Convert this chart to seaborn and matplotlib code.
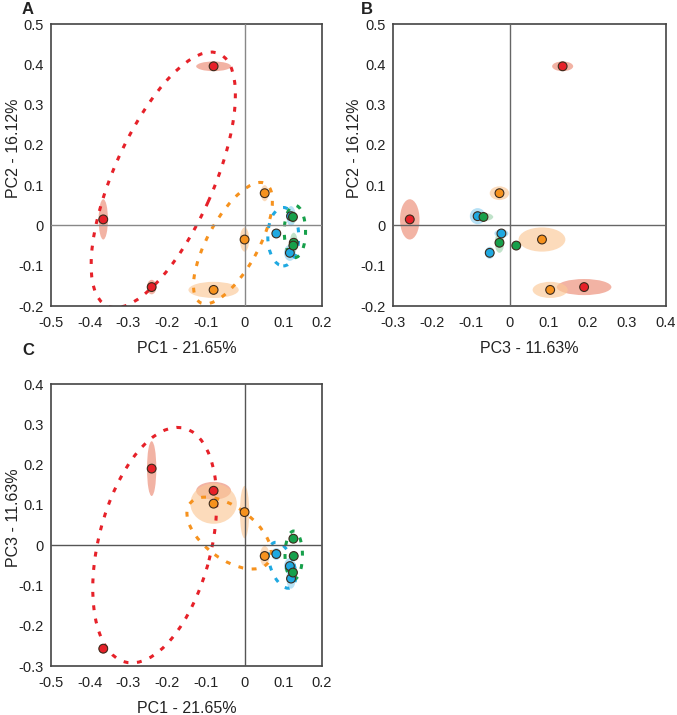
import matplotlib
matplotlib.use('Agg')
import matplotlib.pyplot as plt
from matplotlib.patches import Ellipse
import seaborn as sns
import pandas as pd

# 데이터 (12 samples, 4 groups)
groups = ['red'] * 3 + ['orange'] * 3 + ['blue'] * 3 + ['green'] * 3
pc1 = [-0.08, -0.365, -0.24, 0.052, 0.0, -0.08, 0.12, 0.082, 0.117, 0.125, 0.127, 0.126]
pc2 = [0.395, 0.015, -0.153, 0.080, -0.035, -0.160, 0.023, -0.020, -0.068, 0.021, -0.043, -0.050]
pc3 = [0.135, -0.257, 0.190, -0.027, 0.082, 0.103, -0.083, -0.022, -0.052, -0.068, -0.027, 0.016]

# error ellipse half sizes per panel (x, y)
a_w = [0.045, 0.012, 0.012, 0.010, 0.012, 0.065, 0.012, 0.010, 0.015, 0.010, 0.010, 0.010]
a_h = [0.012, 0.050, 0.018, 0.020, 0.030, 0.020, 0.025, 0.010, 0.020, 0.015, 0.025, 0.010]
b_w = [0.027, 0.025, 0.070, 0.025, 0.060, 0.045, 0.020, 0.018, 0.012, 0.025, 0.012, 0.010]
b_h = [0.012, 0.050, 0.020, 0.017, 0.030, 0.020, 0.020, 0.010, 0.015, 0.010, 0.025, 0.010]
c_w = [0.045, 0.012, 0.012, 0.012, 0.012, 0.060, 0.012, 0.012, 0.015, 0.010, 0.010, 0.010]
c_h = [0.022, 0.012, 0.068, 0.025, 0.065, 0.050, 0.025, 0.015, 0.020, 0.020, 0.012, 0.010]

# group (dashed) ellipses: centre x, centre y, width, height, angle
grp_names = ['red', 'orange', 'blue', 'green']
a_cx = [-0.210, -0.030, 0.100, 0.130]
a_cy = [0.113, -0.044, -0.028, -0.015]
a_ew = [0.69, 0.34, 0.08, 0.055]
a_eh = [0.256, 0.13, 0.145, 0.13]
a_ang = [65, 60, 0, 0]
c_cx = [-0.232, -0.040, 0.097, 0.127]
c_cy = [0.000, 0.030, -0.050, -0.025]
c_ew = [0.60, 0.25, 0.12, 0.045]
c_eh = [0.29, 0.13, 0.06, 0.12]
c_ang = [75, -35, 111, 0]

point_colors = {'red': '#e62129', 'orange': '#f6921e', 'blue': '#1fa9e1', 'green': '#17a04b'}
fill_colors = {'red': '#ec8a74', 'orange': '#fbc897', 'blue': '#8fd1f1', 'green': '#9fd4ae'}

df = pd.DataFrame({'group': groups, 'PC1': pc1, 'PC2': pc2, 'PC3': pc3})

sns.set_style('white')
plt.rcParams['font.family'] = ['Liberation Sans', 'DejaVu Sans']

fig = plt.figure(figsize=(6.77, 7.15), dpi=100)
W, H = 677, 715


def make_ax(left, top, right, bottom):
    return fig.add_axes([left / W, 1 - bottom / H, (right - left) / W, (bottom - top) / H])


def draw_panel(ax, xcol, ycol, hw, hh, gell, xlim, ylim, xticks, yticks, xlabel, ylabel, zcolor, ylab_y):
    # error ellipses
    for i, row in df.iterrows():
        ax.add_patch(Ellipse((row[xcol], row[ycol]), 2 * hw[i], 2 * hh[i],
                             facecolor=fill_colors[row['group']], edgecolor='none', alpha=0.65, zorder=1))
    # group ellipses
    if gell is not None:
        cx, cy, ew, eh, ang = gell
        for j, g in enumerate(grp_names):
            ax.add_patch(Ellipse((cx[j], cy[j]), ew[j], eh[j], angle=ang[j], fill=False,
                                 edgecolor=point_colors[g], lw=2.2, linestyle=(0, (1.6, 2.8)), zorder=2))
    ax.axhline(0, color=zcolor, lw=1.0, zorder=3)
    ax.axvline(0, color=zcolor, lw=1.0, zorder=3)
    sns.scatterplot(data=df, x=xcol, y=ycol, hue='group', palette=point_colors, s=40,
                    edgecolor='#3b2a1c', linewidth=0.8, legend=False, ax=ax, zorder=4)
    ax.set_xlim(xlim)
    ax.set_ylim(ylim)
    ax.set_xticks(xticks)
    ax.set_yticks(yticks)
    ax.set_xticklabels(['0' if t == 0 else f'{t:g}' for t in xticks], fontsize=10.5)
    ax.set_yticklabels(['0' if t == 0 else f'{t:g}' for t in yticks], fontsize=10.5)
    ax.tick_params(axis='x', direction='in', length=3, width=1, pad=7, colors='#333333', labelcolor='#222222')
    ax.tick_params(axis='y', direction='in', length=0, pad=5, labelcolor='#222222')
    ax.set_xlabel(xlabel, fontsize=11.5, labelpad=8, color='#222222')
    ax.set_ylabel(ylabel, fontsize=11.5, color='#222222', va='center')
    ax.yaxis.set_label_coords(-0.14, ylab_y)
    for sp in ax.spines.values():
        sp.set_color('#444444')
        sp.set_linewidth(1.2)


ticks_x1 = [-0.5, -0.4, -0.3, -0.2, -0.1, 0, 0.1, 0.2]
ticks_x3 = [-0.3, -0.2, -0.1, 0, 0.1, 0.2, 0.3, 0.4]
ticks_y2 = [-0.2, -0.1, 0, 0.1, 0.2, 0.3, 0.4, 0.5]
ticks_y3 = [-0.3, -0.2, -0.1, 0, 0.1, 0.2, 0.3, 0.4]

axA = make_ax(51, 24, 322, 306)
draw_panel(axA, 'PC1', 'PC2', a_w, a_h, (a_cx, a_cy, a_ew, a_eh, a_ang),
           (-0.5, 0.2), (-0.2, 0.5), ticks_x1, ticks_y2, 'PC1 - 21.65%', 'PC2 - 16.12%', '#888888', 0.56)

axB = make_ax(393, 24, 666, 306)
draw_panel(axB, 'PC3', 'PC2', b_w, b_h, None,
           (-0.3, 0.4), (-0.2, 0.5), ticks_x3, ticks_y2, 'PC3 - 11.63%', 'PC2 - 16.12%', '#666666', 0.56)

axC = make_ax(51, 384, 322, 666)
draw_panel(axC, 'PC1', 'PC3', c_w, c_h, (c_cx, c_cy, c_ew, c_eh, c_ang),
           (-0.5, 0.2), (-0.3, 0.4), ticks_x1, ticks_y3, 'PC1 - 21.65%', 'PC3 - 11.63%', '#555555', 0.525)

for lbl, x, y in [('A', 28, 9), ('B', 367, 9), ('C', 28, 350)]:
    fig.text(x / W, 1 - y / H, lbl, fontsize=12, fontweight='bold', ha='center', va='center', color='#222222')

fig.savefig('out.png', dpi=100)
